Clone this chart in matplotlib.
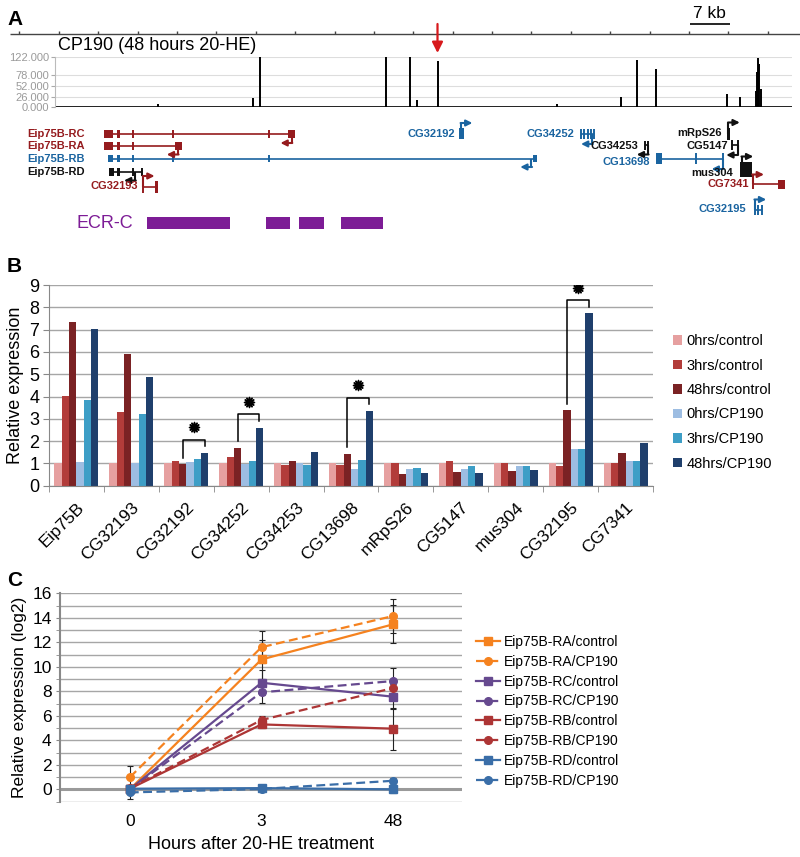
#!/usr/bin/env python3

import matplotlib
matplotlib.use('Agg')
import matplotlib.pyplot as plt
from matplotlib.patches import Rectangle
import numpy as np

plt.rcParams['font.family'] = ['Liberation Sans', 'DejaVu Sans']

W, H = 800, 857


def fx(px):
    return px / W


def fy(py):
    # pixel rows are counted from the top of the figure
    return 1 - py / H


def px_to_kb(px):
    # ruler: one tick every 7 kb, 39.4 px apart, first tick at 19.3 px
    return (px - 19.3) * 7 / 39.4


# ---------------- panel A data (positions in kb) ----------------
peak_kb = [24.6, 41.6, 42.8, 65.1, 69.5, 70.6, 74.3, 95.6, 106.9, 109.7,
           113.1, 125.7, 128.0, 130.9, 131.1, 131.3, 131.5, 131.7]
peak_height = [8, 22, 122, 122, 122, 17, 112, 9, 25, 114,
               93, 31, 26, 40, 85, 118, 105, 45]
track_ticks = [0, 26, 52, 78, 122]
ruler_kb = np.arange(0, 134, 7)

gene_names = ['Eip75B-RC', 'Eip75B-RA', 'Eip75B-RB', 'Eip75B-RD', 'CG32193',
              'CG32192', 'CG34252', 'CG34253', 'CG13698', 'mRpS26',
              'CG5147', 'mus304', 'CG7341', 'CG32195']
gene_span = [(15.05, 48.4), (15.05, 28.4), (15.76, 91.9), (15.94, 21.75), (22.03, 24.7),
             (78.1, 79.0), (99.8, 102.1), (111.2, 111.7), (113.2, 125.0), (125.7, 126.3),
             (126.7, 127.6), (128.0, 130.1), (130.3, 135.7), (130.7, 131.9)]
gene_exons = [[(15.05, 16.6), (17.3, 17.9), (47.7, 48.9)],
              [(15.05, 16.6), (17.3, 17.9), (27.6, 28.9)],
              [(15.76, 16.6), (17.3, 17.9), (91.2, 92.0)],
              [(15.94, 16.9), (17.3, 17.9)],
              [(24.1, 24.7)],
              [(78.1, 79.0)],
              [],
              [],
              [(113.2, 114.1)],
              [(125.7, 126.3)],
              [],
              [(128.0, 130.1)],
              [(134.8, 136.0)],
              []]
gene_ticks = [[20.15, 27.36, 44.36],
              [20.15],
              [20.15, 27.36, 44.36],
              [20.15, 21.75],
              [22.03],
              [],
              [99.8, 100.4, 101.0, 101.6, 102.1],
              [111.2, 111.7],
              [120.3, 125.0],
              [],
              [126.7, 127.6],
              [],
              [130.3],
              [130.7, 131.2, 131.9]]
tss_kb = [48.4, 28.2, 91.0, 20.6, 22.03, 78.5, 101.8, 111.7, 125.0, 126.0,
          127.6, 128.4, 130.3, 130.7]
tss_strand = [-1, -1, -1, -1, 1, 1, -1, -1, -1, 1, -1, 1, 1, 1]
ecr_start = [22.7, 43.8, 49.7, 57.2]
ecr_end = [37.4, 48.1, 54.1, 64.6]

RED_G, BLUE_G, BLACK_G = '#951b1e', '#1a64a0', '#111111'
gene_colors = [RED_G, RED_G, BLUE_G, BLACK_G, RED_G, BLUE_G, BLUE_G, BLACK_G,
               BLUE_G, BLACK_G, BLACK_G, BLACK_G, RED_G, BLUE_G]
# layout of the gene rows (pixel rows from the top)
gene_row_y = [134, 145.5, 158.5, 171.5, 187, 133.5, 134, 145, 158.5, 133.5,
              145, 169, 184, 209.5]
block_h = [8, 8, 7, 8, 12, 11, 10, 9, 11, 12, 10, 15, 9, 10]
label_kb = [11.7, 11.7, 11.7, 11.7, 21.1, 77.4, 98.7, 109.9, 112.0, 124.8,
            125.9, 126.8, 129.6, 129.2]
label_y = [134, 146, 159, 172, 186, 134, 134, 146, 162, 133.5, 146, 172.5, 184, 209]

# ---------------- panel B data ----------------
genes_b = ['Eip75B', 'CG32193', 'CG32192', 'CG34252', 'CG34253', 'CG13698',
           'mRpS26', 'CG5147', 'mus304', 'CG32195', 'CG7341']
ctrl_0h = [1.0, 1.0, 1.0, 1.0, 1.0, 1.0, 1.0, 1.0, 1.0, 1.0, 1.0]
ctrl_3h = [4.04, 3.3, 1.1, 1.3, 0.91, 0.91, 1.0, 1.09, 1.0, 0.9, 1.0]
ctrl_48h = [7.32, 5.9, 0.96, 1.7, 1.1, 1.42, 0.52, 0.63, 0.67, 3.38, 1.45]
cp_0h = [1.05, 1.0, 1.06, 0.96, 1.0, 0.75, 0.75, 0.76, 0.87, 1.63, 1.09]
cp_3h = [3.84, 3.21, 1.2, 1.1, 0.91, 1.15, 0.81, 0.9, 0.9, 1.63, 1.13]
cp_48h = [7.04, 4.86, 1.46, 2.6, 1.52, 3.35, 0.55, 0.58, 0.69, 7.73, 1.91]
series_b = ['0hrs/control', '3hrs/control', '48hrs/control',
            '0hrs/CP190', '3hrs/CP190', '48hrs/CP190']
colors_b = ['#e6a0a0', '#b23c3a', '#7a2224', '#9dbde2', '#3d9ec6', '#1f3f6c']
sig_genes = ['CG32192', 'CG34252', 'CG13698', 'CG32195']

# ---------------- panel C data ----------------
hours_c = ['0', '3', '48']
ra_ctrl = [0.0, 10.6, 13.47]
ra_ctrl_err = [0.05, 1.6, 1.55]
ra_cp = [0.98, 11.6, 14.15]
ra_cp_err = [0.95, 1.3, 1.4]
rc_ctrl = [0.0, 8.7, 7.56]
rc_ctrl_err = [0.1, 1.0, 1.0]
rc_cp = [0.0, 7.92, 8.84]
rc_cp_err = [0.1, 0.9, 1.1]
rb_ctrl = [0.05, 5.3, 4.95]
rb_ctrl_err = [0.1, 0.3, 1.7]
rb_cp = [0.1, 5.66, 8.27]
rb_cp_err = [0.1, 0.3, 0.5]
rd_ctrl = [0.05, 0.1, 0.0]
rd_ctrl_err = [0.1, 0.1, 0.3]
rd_cp = [-0.25, 0.03, 0.7]
rd_cp_err = [0.5, 0.1, 0.2]

fig = plt.figure(figsize=(W / 100, H / 100), dpi=100)

# ================= panel A =================
ax_a = fig.add_axes([0, fy(250), 1, 250 / H])
ax_a.set_xlim(px_to_kb(0), px_to_kb(W))
ax_a.set_ylim(250, 0)
ax_a.axis('off')

ax_a.hlines(34, px_to_kb(10), px_to_kb(W), color='#444444', lw=1)
ax_a.vlines(ruler_kb, 31, 34, color='#444444', lw=1)
ax_a.hlines(24, 119.2, 126.2, color='black', lw=1.2)
ax_a.text(122.7, 21, '7 kb', ha='center', va='bottom', fontsize=12.5)
ax_a.text(6.9, 45, 'CP190 (48 hours 20-HE)', ha='left', va='center', fontsize=13)
ax_a.annotate('', xy=(74.3, 53), xytext=(74.3, 24),
              arrowprops=dict(arrowstyle='-|>', color='#d7191c', lw=1.6,
                              mutation_scale=16, shrinkA=0, shrinkB=0))

for i, name in enumerate(gene_names):
    c = gene_colors[i]
    y = gene_row_y[i]
    h = block_h[i]
    ax_a.hlines(y, gene_span[i][0], gene_span[i][1], color=c, lw=1.2)
    for s, e in gene_exons[i]:
        ax_a.add_patch(Rectangle((s, y - h / 2), e - s, h, color=c, lw=0))
    if gene_ticks[i]:
        ax_a.vlines(gene_ticks[i], y - h / 2, y + h / 2, color=c, lw=1.4)
    # bent arrow for the transcription start
    st = tss_strand[i]
    y2 = y - st * (h / 2 + 5)
    ax_a.plot([tss_kb[i], tss_kb[i]], [y, y2], color=c, lw=1.5, solid_capstyle='butt')
    ax_a.annotate('', xy=(tss_kb[i] + st * 2.0, y2), xytext=(tss_kb[i] - st * 0.1, y2),
                  arrowprops=dict(arrowstyle='-|>', color=c, lw=1.5,
                                  mutation_scale=9, shrinkA=0, shrinkB=0))
    ax_a.text(label_kb[i], label_y[i], name, ha='right', va='center', color=c,
              fontsize=8, fontweight='bold')

for s, e in zip(ecr_start, ecr_end):
    ax_a.add_patch(Rectangle((s, 216.5), e - s, 12.5, color='#7d1c96', lw=0))
ax_a.text(px_to_kb(77), 223, 'ECR-C', ha='left', va='center', color='#7d1c96', fontsize=13)

ax_t = fig.add_axes([fx(55), fy(107.3), fx(792) - fx(55), 50.6 / H])
ax_t.set_xlim(px_to_kb(55), px_to_kb(792))
ax_t.set_ylim(0, 122)
ax_t.axhline(1.5, color='#222222', lw=1.4)
ax_t.vlines(peak_kb, 0, peak_height, color='black', lw=1.4)
ax_t.set_yticks(track_ticks)
ax_t.set_yticklabels(['%.3f' % t for t in track_ticks], color='#9a9a9a', fontsize=8)
ax_t.set_xticks([])
ax_t.yaxis.grid(True, color='#dddddd', lw=0.8)
ax_t.set_axisbelow(True)
ax_t.tick_params(axis='y', length=3, color='#aaaaaa', pad=1)
for sp in ['top', 'right', 'bottom']:
    ax_t.spines[sp].set_visible(False)
ax_t.spines['left'].set_color('#bbbbbb')
ax_t.patch.set_alpha(0)

# ================= panel B =================
ax_b = fig.add_axes([fx(49), fy(485.7), fx(653) - fx(49), 200.7 / H])
x = np.arange(len(genes_b))
w = 0.8 / 6
series_vals = [ctrl_0h, ctrl_3h, ctrl_48h, cp_0h, cp_3h, cp_48h]
for j, vals in enumerate(series_vals):
    ax_b.bar(x + (j - 2.5) * w, vals, w, color=colors_b[j], label=series_b[j], zorder=2)

for g in sig_genes:
    k = genes_b.index(g)
    xl = k + (2 - 2.5) * w
    xr = k + (5 - 2.5) * w
    top = cp_48h[k] + 0.6
    ax_b.plot([xl, xl, xr, xr], [ctrl_48h[k] + 0.3, top, top, cp_48h[k] + 0.3],
              color='black', lw=1.1, zorder=3)
    ax_b.scatter([(xl + xr) / 2], [top + 0.55], marker=(12, 1, 0), s=55,
                 color='black', zorder=3)

ax_b.set_xlim(-0.5, len(genes_b) - 0.5)
ax_b.set_ylim(0, 9)
ax_b.set_yticks(range(10))
ax_b.yaxis.grid(True, color='#a6a6a6', lw=1)
ax_b.set_axisbelow(True)
ax_b.set_xticks(x)
ax_b.set_xticklabels(genes_b, rotation=45, ha='right', va='top', rotation_mode='anchor',
                     fontsize=12.5)
ax_b.set_xticks(np.arange(-0.5, len(genes_b)), minor=True)
ax_b.tick_params(axis='x', which='major', length=0, pad=10)
ax_b.tick_params(axis='x', which='minor', length=4, color='#888888')
ax_b.tick_params(axis='y', labelsize=13, length=4, color='#888888', pad=3)
for sp in ['top', 'right']:
    ax_b.spines[sp].set_visible(False)
ax_b.spines['left'].set_color('#888888')
ax_b.spines['bottom'].set_color('#888888')
ax_b.set_ylabel('Relative expression', fontsize=13)
ax_b.yaxis.set_label_coords(-0.041, 0.5)
fig.legend(*ax_b.get_legend_handles_labels(), loc='upper left',
           bbox_to_anchor=(fx(673), fy(334)), frameon=False, fontsize=10.5,
           handlelength=0.65, handleheight=0.65, handletextpad=0.3,
           labelspacing=0.72, borderpad=0, borderaxespad=0)

# ================= panel C =================
ax_c = fig.add_axes([fx(60), fy(801.6), fx(461.7) - fx(60), 208.3 / H])
xc = np.arange(len(hours_c))
c_series = [
    ('Eip75B-RA/control', ra_ctrl, ra_ctrl_err, '#f5821f', '-', 's'),
    ('Eip75B-RA/CP190', ra_cp, ra_cp_err, '#f5821f', '--', 'o'),
    ('Eip75B-RC/control', rc_ctrl, rc_ctrl_err, '#66498f', '-', 's'),
    ('Eip75B-RC/CP190', rc_cp, rc_cp_err, '#66498f', '--', 'o'),
    ('Eip75B-RB/control', rb_ctrl, rb_ctrl_err, '#ad3535', '-', 's'),
    ('Eip75B-RB/CP190', rb_cp, rb_cp_err, '#ad3535', '--', 'o'),
    ('Eip75B-RD/control', rd_ctrl, rd_ctrl_err, '#3a6ea8', '-', 's'),
    ('Eip75B-RD/CP190', rd_cp, rd_cp_err, '#3a6ea8', '--', 'o'),
]
ax_c.axhline(0, color='#9a9a9a', lw=2.2, zorder=1.5)
handles = []
for lab, vals, err, col, ls, mk in c_series:
    ax_c.errorbar(xc, vals, yerr=err, fmt='none', ecolor='#222222', elinewidth=0.8,
                  capsize=2.5, capthick=0.8, zorder=2)
    ln, = ax_c.plot(xc, vals, color=col, ls=ls, marker=mk, markersize=5.5, lw=1.6,
                    label=lab, zorder=3)
    if ls == '--':
        ln.set_dashes((4, 2))
    handles.append(ln)

ax_c.set_xlim(-0.53, 2.52)
ax_c.set_ylim(-1, 16)
ax_c.set_yticks(range(0, 17, 2))
ax_c.set_yticks(range(-1, 17), minor=True)
ax_c.yaxis.grid(True, which='both', color='#a6a6a6', lw=1)
ax_c.set_axisbelow(True)
ax_c.tick_params(axis='y', which='both', length=3, color='#888888', labelsize=12.5, pad=3)
ax_c.set_xticks(xc)
ax_c.set_xticklabels(hours_c, fontsize=12.5)
ax_c.tick_params(axis='x', length=0, pad=9)
for sp in ['top', 'right', 'bottom']:
    ax_c.spines[sp].set_visible(False)
ax_c.spines['left'].set_color('#888888')
ax_c.spines['left'].set_linewidth(1.5)
ax_c.set_ylabel('Relative expression (log2)', fontsize=12.5)
ax_c.yaxis.set_label_coords(-0.082, 0.5)
ax_c.set_xlabel('Hours after 20-HE treatment', fontsize=13, labelpad=5)
fig.legend(handles=handles, loc='upper left', bbox_to_anchor=(fx(476), fy(635)),
           frameon=False, fontsize=10, handlelength=1.7, handletextpad=0.3,
           labelspacing=0.42, borderpad=0, borderaxespad=0)

# panel letters
fig.text(fx(7), fy(25), 'A', fontsize=15, fontweight='bold')
fig.text(fx(7), fy(272), 'B', fontsize=15, fontweight='bold')
fig.text(fx(7), fy(586), 'C', fontsize=15, fontweight='bold')

fig.savefig('out.png', dpi=100)
